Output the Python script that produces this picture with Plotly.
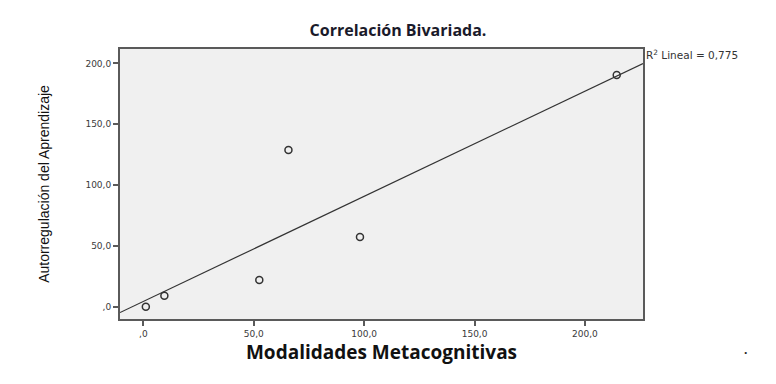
import numpy as np
import plotly.graph_objects as go

# Data
modalidades = [1.1, 9.5, 52.5, 65.7, 98.1, 214.4]
autorregulacion = [0.0, 9.0, 21.9, 128.8, 57.3, 190.4]
tick_vals = [0, 50, 100, 150, 200]
tick_text = [",0", "50,0", "100,0", "150,0", "200,0"]
r2_text = "R<sup>2</sup> Lineal = 0,775"

x_range = [-10.6, 226.3]
y_range = [-10.1, 211.8]

slope, intercept = np.polyfit(modalidades, autorregulacion, 1)
line_x = np.array(x_range)
line_y = intercept + slope * line_x

# page body has an 8px default margin; compensate
W, H = 768, 376

fig = go.Figure()
fig.add_trace(go.Scatter(
    x=line_x, y=line_y, mode="lines",
    line=dict(color="#333333", width=1.2),
    hoverinfo="skip", showlegend=False,
))
fig.add_trace(go.Scatter(
    x=modalidades, y=autorregulacion, mode="markers",
    marker=dict(symbol="circle-open", size=7, color="#333333",
                line=dict(width=1.5, color="#333333")),
    showlegend=False,
))

axis_common = dict(
    showgrid=False, zeroline=False, showline=True, mirror=True,
    linecolor="#5a5a5a", linewidth=2, ticks="outside", ticklen=5,
    tickcolor="#5a5a5a", tickwidth=1.5,
    tickvals=tick_vals, ticktext=tick_text,
    tickfont=dict(family="DejaVu Sans, Verdana, sans-serif", size=9, color="#3a3a3a"),
)

fig.update_layout(
    width=W, height=H,
    margin=dict(l=112, r=133, t=41, b=65),
    paper_bgcolor="white", plot_bgcolor="#f0f0f0",
    title=dict(text="<b>Correlación Bivariada.</b>", x=(398 - 8) / W, xanchor="center",
               y=1 - 22 / H, yanchor="middle",
               font=dict(family="Open Sans, Liberation Sans, sans-serif", size=16, color="#1a1a2a")),
    xaxis=dict(range=x_range, **axis_common,
               title=dict(text="<b>Modalidades Metacognitivas</b>", standoff=8,
                          font=dict(family="Open Sans, Liberation Sans, sans-serif", size=19, color="#111111"))),
    yaxis=dict(range=y_range, **axis_common,
               title=dict(text="Autorregulación del Aprendizaje", standoff=33,
                          font=dict(family="Liberation Sans Narrow, Liberation Sans, sans-serif",
                                    size=14, color="#111111"))),
    annotations=[
        dict(text=r2_text, xref="paper", yref="paper", x=1.0, y=1.0, xanchor="left", yanchor="top",
             xshift=1, yshift=3, showarrow=False,
             font=dict(family="DejaVu Sans, Verdana, sans-serif", size=10.5, color="#333333")),
        dict(text="<b>.</b>", xref="paper", yref="paper", x=(745 - 120) / 523, y=-(360 - 319) / 270,
             xanchor="center", yanchor="bottom", showarrow=False,
             font=dict(size=12, color="#222222")),
    ],
)

fig.write_html("out.html")
